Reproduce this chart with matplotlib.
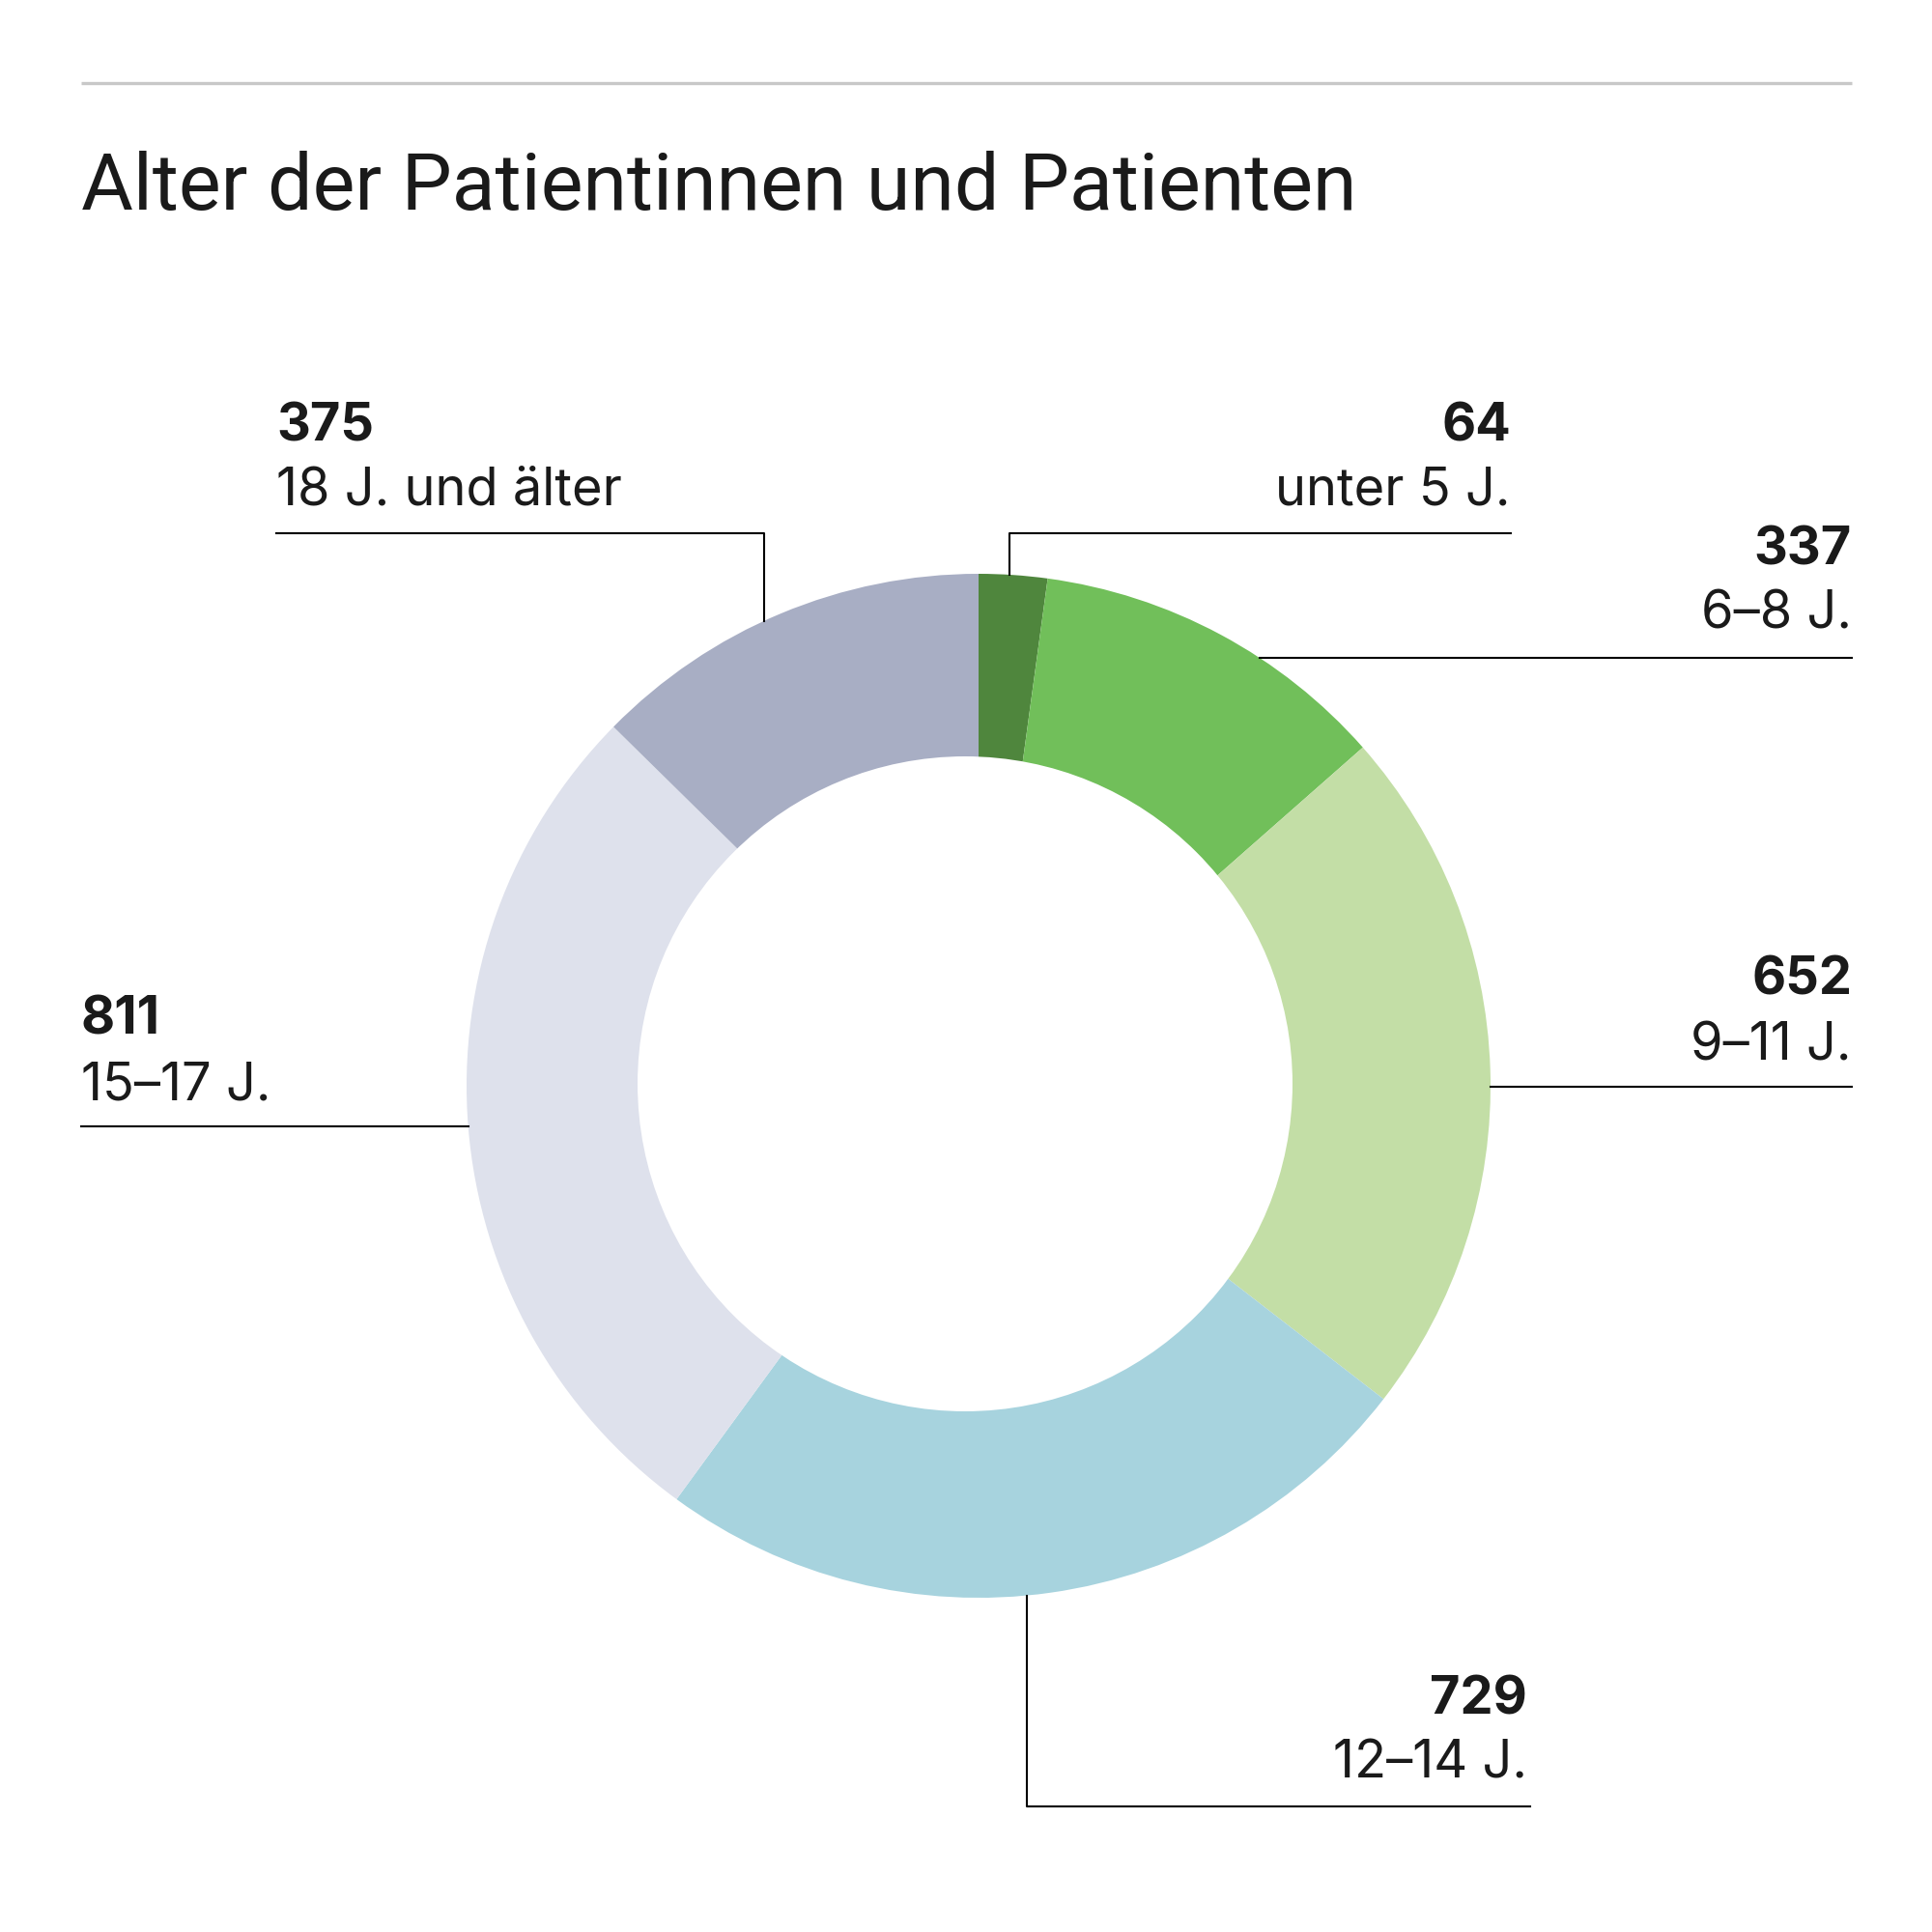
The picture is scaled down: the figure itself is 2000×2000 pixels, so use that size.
import matplotlib
matplotlib.use("Agg")
import matplotlib.pyplot as plt
from matplotlib.patches import Circle
import numpy as np

# Daten
kategorien = ["unter 5 J.", "6–8 J.", "9–11 J.", "12–14 J.", "15–17 J.", "18 J. und älter"]
anzahl = [64, 337, 652, 729, 811, 375]
farben = ["#4f863d", "#71bf5a", "#c3dea6", "#a7d3de", "#dee1ec", "#a8aec4"]

titel = "Alter der Patientinnen und Patienten"

plt.rcParams['font.family'] = ['Inter', 'DejaVu Sans']
textfarbe = "#1a1a1a"

W = 2000
fig = plt.figure(figsize=(10, 10), dpi=200)
ax = fig.add_axes([0, 0, 1, 1])

# Ring (Pixelkoordinaten, y nach oben)
cx, cy = 1013, 2000 - 1124
r_aussen = 530
# Loch leicht nach links versetzt wie im Original
loch_x, loch_y, r_innen = 999, 2000 - 1122, 339

ax.pie(anzahl, colors=farben, startangle=90, counterclock=False,
       center=(cx, cy), radius=r_aussen,
       wedgeprops=dict(linewidth=0))
ax.add_patch(Circle((loch_x, loch_y), r_innen, facecolor="white", edgecolor="none", zorder=5))

ax.set_xlim(0, W)
ax.set_ylim(0, W)
ax.set_aspect("equal")
ax.axis("off")


def Y(y):
    return W - y


def ring_y(x, oben=True):
    d = np.sqrt(r_aussen**2 - (x - cx)**2)
    return cy + d if oben else cy - d


def ring_x(y, rechts=True):
    d = np.sqrt(r_aussen**2 - (y - cy)**2)
    return cx + d if rechts else cx - d


# Linie oben und Titel
ax.plot([84, 1917], [Y(86), Y(86)], color="#c8c8c8", lw=1.2, solid_capstyle="butt")
ax.text(84, Y(217), titel, fontsize=29.7, color=textfarbe, ha="left", va="baseline",
        family=["Roboto", "DejaVu Sans"])

lw = 0.75
fs = 19.5


def beschriftung(x, y_zahl, y_text, zahl, text, ha):
    ax.text(x, Y(y_zahl), str(zahl), fontsize=fs, fontweight="bold",
            color=textfarbe, ha=ha, va="center")
    ax.text(x, Y(y_text), text, fontsize=fs, color=textfarbe, ha=ha, va="center")


# unter 5 J.
beschriftung(1564, 442, 508, anzahl[0], kategorien[0], "right")
ax.plot([1045, 1045, 1564], [ring_y(1045), Y(552), Y(552)], color="black", lw=lw)

# 6–8 J.
beschriftung(1917, 570, 636, anzahl[1], kategorien[1], "right")
ax.plot([ring_x(Y(681)), 1917], [Y(681), Y(681)], color="black", lw=lw)

# 9–11 J.
beschriftung(1917, 1015, 1083, anzahl[2], kategorien[2], "right")
ax.plot([ring_x(Y(1125)), 1917], [Y(1125), Y(1125)], color="black", lw=lw)

# 12–14 J.
beschriftung(1581, 1760, 1826, anzahl[3], kategorien[3], "right")
ax.plot([1063, 1063, 1584], [ring_y(1063, oben=False), Y(1870), Y(1870)], color="black", lw=lw)

# 15–17 J.
beschriftung(84, 1056, 1124, anzahl[4], kategorien[4], "left")
ax.plot([84, ring_x(Y(1166), rechts=False)], [Y(1166), Y(1166)], color="black", lw=lw)

# 18 J. und älter
beschriftung(286, 442, 508, anzahl[5], kategorien[5], "left")
ax.plot([286, 791, 791], [Y(552), Y(552), ring_y(791)], color="black", lw=lw)

fig.savefig("out.png", dpi=200, facecolor="white")
